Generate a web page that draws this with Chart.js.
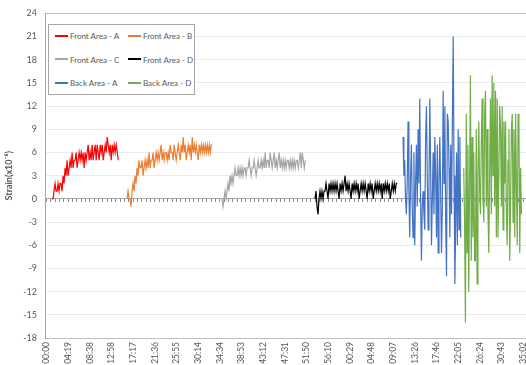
<!DOCTYPE html>
<html><head><meta charset="utf-8">
<script src="https://cdn.jsdelivr.net/npm/chart.js@4"></script>
<style>
html,body{margin:0;padding:0;background:#fff;}
#wrap{position:relative;width:526px;height:365px;overflow:hidden;}
#c{position:absolute;left:0;top:0;}
#legend{position:absolute;left:48px;top:24px;width:147px;height:71px;border:1px solid #a6a6a6;background:#fff;box-sizing:border-box;font:8px Lato, "Open Sans", sans-serif;color:#595959;}
.item{position:absolute;height:12px;line-height:12px;white-space:nowrap;}
.item span.mk{display:inline-block;width:13px;height:2px;vertical-align:middle;margin-right:2px;position:relative;top:-1px;}
</style></head>
<body><div id="wrap"><canvas id="c" width="540" height="365"></canvas><div id="legend"></div></div>
<script>
// ---- tick labels (mm:ss) ----
const tickLabels = ["00:00","04:19","08:38","12:58","17:17","21:36","25:55","30:14","34:34","38:53","43:12","47:31","51:50","56:10","00:29","04:48","09:07","13:26","17:46","22:05","26:24","30:43","35:02"];
const labelInterval = 5702 / 22;   // seconds between labelled ticks

// ---- series ----
const seriesNames  = ["Front Area - A","Front Area - B","Front Area - C","Front Area - D","Back Area - A","Back Area - D"];
const seriesColors = ["#ff0000","#ed7d31","#a5a5a5","#000000","#4472c4","#70ad47"];
const seriesStart  = [66, 963, 2099, 3211, 4264, 4990];   // seconds of first sample
const seriesStep   = [12, 12, 12, 12, 10, 10];            // seconds between samples

const frontA = [0,0,1,2,1,1,2,1,2,2, 1,3,2,4,3,5,3,4,5,4, 6,4,5,5,6,4,5,6,5,6, 5,6,4,6,5,6,7,5,6,5,
                7,5,6,7,5,7,6,5,7,6, 7,5,6,7,6,8,7,6,7,5, 7,6,7,6,7,6,5];
const frontB = [0,1,0,0,-1,1,2,1,3,2, 4,3,5,4,4,5,3,4,5,4, 5,4,6,4,5,5,6,4,5,6, 5,6,5,6,7,5,6,5,6,6,
                5,6,5,7,6,6,5,7,6,5, 6,7,6,5,7,6,8,6,7,5, 6,7,6,7,5,8,6,7,6,7, 6,5,7,6,7,6,7,6,7,6,
                7,6,7,6,7,7];
const frontC = [0,-1,0,1,0,1,2,1,3,2, 3,2,3,4,3,3,4,3,4,3, 4,3,4,4,3,4,4,5,4,3, 4,4,5,4,3,4,5,4,4,5,
                4,5,4,6,4,5,5,4,6,5, 4,5,6,4,5,4,5,6,4,5, 4,5,4,5,4,5,5,4,5,4, 5,4,5,4,5,5,4,5,6,4,
                6,5,4,5];
const frontD = [0,1,-1,-2,0,1,0,1,0,1, 1,2,1,0,2,1,2,1,2,1, 2,1,2,1,0,2,1,2,1,2, 3,1,2,1,2,1,0,2,1,2,
                1,2,1,2,0,1,2,1,2,1, 2,1,0,2,1,2,1,2,0,1, 2,1,2,1,2,1,2,0,2,1, 2,1,2,1,2,0,1,2,1,2,
                1,2,2];
const backA  = [8,3, 5,0, -2,2, 10,1, -5,3, 7,-1, -5,6, -6,2, 7,-1, 9,2, 13,0, -8,-1, 1,-2, -4,8,
                12,3, -4,1, 13,4, -6,0, 6,-2, 8,3, -5,7, -7,2, 8,1, -7,-1, 14,2, 12,-3, -10,11,
                10,4, -5,7, -2,10, 21,3, -11,-3, 6,-6, 9,-4, 8,-5];
const backD  = [4,-3, -16,11, -7,7, -12,2, 16,-8, 8,-5, 6,-8, -8,9, -11,3, 10,1, -2,7, 13,0,
                -3,11, 14,-1, 9,-2, -7,4, 13,-2, 16,3, 15,-1, 14,-5, 13,-5, -5,12, 9,-1, 12,-4,
                10,2, 10,-2, -6,5, 9,-8, -1,9, 11,-3, 9,-5, 11,2, -6,11, 10,-7, 4,-2];
const seriesValues = [frontA, frontB, frontC, frontD, backA, backD];

// ---- y axis ----
const yMin = -18, yMax = 24, yStep = 3;
const yTitle = "Strain(x10\u207B\u2076)";

Chart.defaults.font.family = 'Lato, "Open Sans", sans-serif';
Chart.defaults.font.size = 9;
Chart.defaults.color = '#595959';

const datasets = seriesValues.map((vals, s) => ({
  label: seriesNames[s],
  data: vals.map((v, i) => ({ x: seriesStart[s] + i * seriesStep[s], y: v })),
  borderColor: seriesColors[s],
  backgroundColor: seriesColors[s],
  borderWidth: 1.2,
  pointRadius: 0,
  tension: 0,
  fill: false
}));

const xMin = -18, xMax = 5902;

const chart = new Chart(document.getElementById('c'), {
  type: 'line',
  data: { datasets },
  options: {
    responsive: false,
    animation: false,
    layout: { padding: { top: 13, right: 0, bottom: 0, left: 0 } },
    plugins: { legend: { display: false }, tooltip: { enabled: false } },
    scales: {
      x: {
        type: 'linear', min: xMin, max: xMax,
        afterBuildTicks: s => { s.ticks = tickLabels.map((l, i) => ({ value: i * labelInterval })); },
        afterFit: s => { s.height = 27; },
        ticks: {
          autoSkip: false, minRotation: 90, maxRotation: 90, padding: 4,
          color: '#595959', font: { size: 8.5 },
          callback: (v, i) => tickLabels[i]
        },
        grid: { display: true, color: 'rgba(0,0,0,0)', drawTicks: false },
        border: { display: true, color: '#bfbfbf', width: 1 }
      },
      x2: {
        type: 'linear', min: xMin, max: xMax,
        position: { y: 0 },
        afterBuildTicks: s => {
          const t = [];
          for (let k = 0; k <= (tickLabels.length - 1) * 5; k++) t.push({ value: k * labelInterval / 5 });
          s.ticks = t;
        },
        ticks: { display: false },
        grid: { drawOnChartArea: false, drawTicks: true, tickLength: 3, color: '#8c8c8c', lineWidth: 1 },
        border: { display: true, color: '#a6a6a6', width: 1 }
      },
      y: {
        min: yMin, max: yMax,
        afterFit: s => { s.width = 45; },
        ticks: { stepSize: yStep, padding: 8, color: '#595959', font: { size: 9 } },
        grid: {
          drawTicks: false,
          color: c => c.tick.value === yMax ? '#bfbfbf' : (c.tick.value === 0 ? '#a6a6a6' : '#ebebeb'),
          lineWidth: 1
        },
        border: { display: true, color: '#a6a6a6', width: 1 },
        title: { display: true, text: yTitle, color: '#595959', font: { size: 9, weight: 'bold' }, padding: { top: 4, bottom: 0 } }
      }
    }
  }
});

// ---- HTML legend built from the chart's datasets ----
const lg = document.getElementById('legend');
chart.data.datasets.forEach((ds, i) => {
  const col = i % 2, row = Math.floor(i / 2);
  const d = document.createElement('div');
  d.className = 'item';
  d.style.left = (6 + col * 73) + 'px';
  d.style.top = (5 + row * 23.5) + 'px';
  const mk = document.createElement('span');
  mk.className = 'mk';
  mk.style.backgroundColor = ds.borderColor;
  d.appendChild(mk);
  d.appendChild(document.createTextNode(ds.label));
  lg.appendChild(d);
});
</script>
</body></html>
